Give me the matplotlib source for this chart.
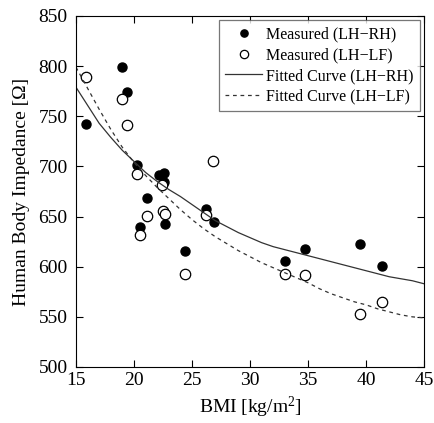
import matplotlib
matplotlib.use('Agg')
import matplotlib.pyplot as plt

plt.rcParams['font.family'] = ['Liberation Serif', 'DejaVu Serif']
plt.rcParams['mathtext.fontset'] = 'custom'
plt.rcParams['mathtext.rm'] = 'Liberation Serif'
plt.rcParams['mathtext.it'] = 'Liberation Serif:italic'

# Measured points, LH-RH (filled)
bmiRH = [15.9, 19.0, 19.4, 20.3, 20.5, 21.1, 22.2, 22.6, 22.6, 22.7,
         24.4, 26.2, 26.9, 33.0, 34.7, 39.5, 41.4]
impRH = [742, 799, 774, 701, 640, 669, 691, 693, 684, 643,
         616, 658, 645, 606, 618, 623, 601]

# Measured points, LH-LF (open)
bmiLF = [15.9, 19.0, 19.4, 20.3, 20.5, 21.1, 22.4, 22.5, 22.7, 24.4,
         26.2, 26.8, 33.0, 34.7, 39.5, 41.4]
impLF = [789, 767, 741, 692, 632, 651, 681, 656, 653, 593,
         652, 705, 593, 592, 553, 565]

# Fitted curves at each integer BMI
curveX = list(range(15, 46))
fitRH = [779, 761, 743, 729, 716, 705, 694, 685, 677, 670,
         662, 654, 646, 640, 634, 629, 624, 620, 617, 614,
         611, 608, 605, 602, 599, 596, 593, 590, 588, 586, 583]
fitLF = [799, 778, 757, 737, 719, 704, 691, 679, 668, 657,
         647, 638, 630, 623, 616, 610, 604, 599, 594, 589,
         584, 578, 573, 569, 565, 562, 558, 555, 552, 550, 549]

fig = plt.figure(figsize=(4.34, 4.23), dpi=100)
ax = fig.add_axes([0.175, 0.1324, 0.802, 0.8298])

ax.plot(bmiRH, impRH, 'o', color='black', markersize=6.5, label='Measured (LH\u2212RH)')
ax.plot(bmiLF, impLF, 'o', markerfacecolor='white', markeredgecolor='black',
        markeredgewidth=0.9, markersize=7.5, label='Measured (LH\u2212LF)')
ax.plot(curveX, fitRH, '-', color='#333333', linewidth=0.9, label='Fitted Curve (LH\u2212RH)')
ax.plot(curveX, fitLF, '--', color='#333333', linewidth=0.9, dashes=(3, 3),
        label='Fitted Curve (LH\u2212LF)')

ax.set_xlim(15, 45)
ax.set_ylim(500, 850)
ax.set_xticks([15, 20, 25, 30, 35, 40, 45])
ax.set_yticks([500, 550, 600, 650, 700, 750, 800, 850])
ax.tick_params(direction='in', top=True, right=True, labelsize=14, length=5)
ax.tick_params(axis='x', pad=3.5)
ax.tick_params(axis='y', pad=6)
ax.set_xlabel('BMI [kg/m$^2$]', fontsize=14, labelpad=4.5)
ax.set_ylabel('Human Body Impedance [\u03a9]', fontsize=14, labelpad=6)

leg = ax.legend(loc='upper right', fontsize=11.5, frameon=True, fancybox=False,
                edgecolor='#555555', borderaxespad=0.25, handlelength=2.3,
                handletextpad=0.25, labelspacing=0.3, borderpad=0.4, markerscale=0.8)
leg.get_frame().set_linewidth(0.9)

fig.savefig('out.png', dpi=100)
